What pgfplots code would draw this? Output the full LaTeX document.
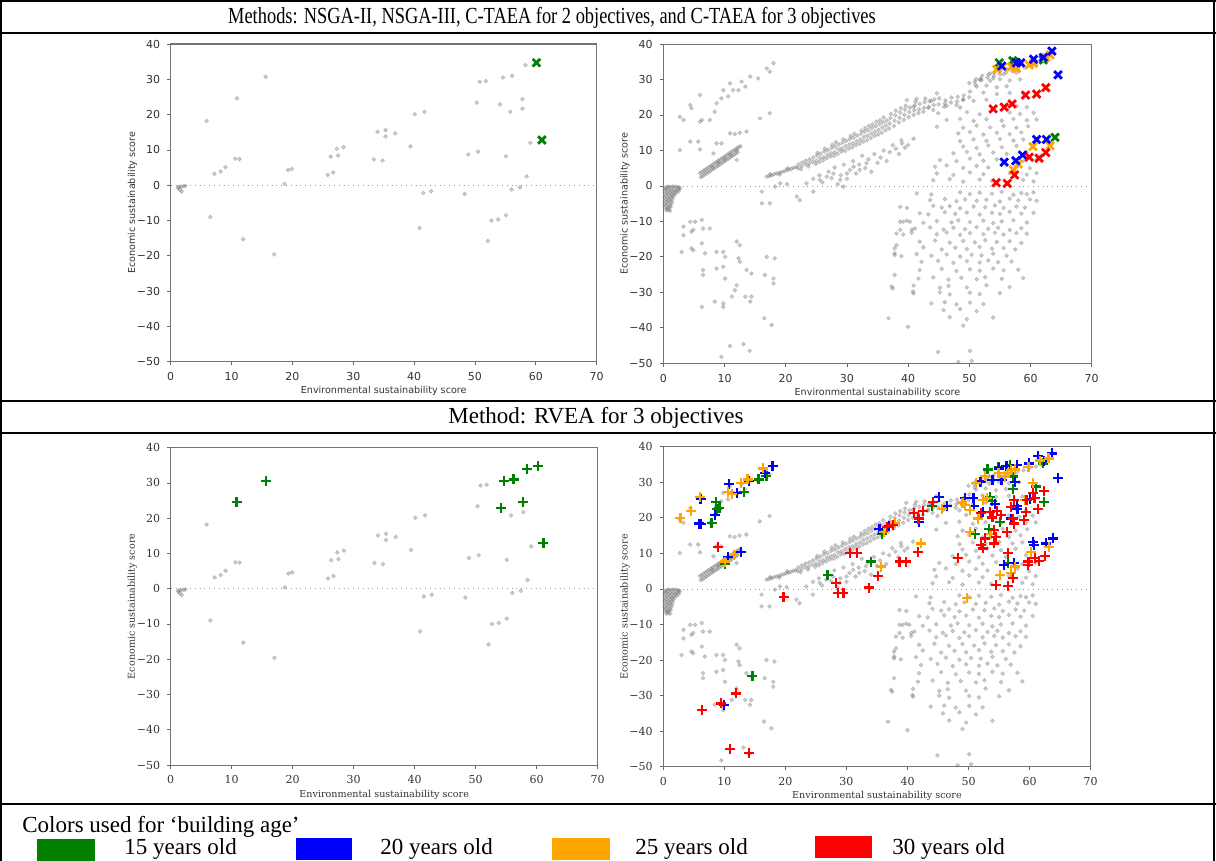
\documentclass[border=0pt]{standalone}
\usepackage{fontspec}
\setmainfont{Liberation Serif}
\newfontfamily\djsans{DejaVu Sans}
\newfontfamily\djserif{DejaVu Serif}
\usepackage{pgfplots}
\usepackage{pgfplotstable}
\pgfplotsset{compat=1.18}
\definecolor{mgreen}{RGB}{0,128,0}
\definecolor{mblue}{RGB}{0,0,255}
\definecolor{morange}{RGB}{255,165,0}
\definecolor{mred}{RGB}{255,0,0}

\pgfplotstableread[row sep=\\]{
x y\\
1.2 -0.8\\ 1.5 -1.3\\ 1.8 -1.8\\ 2.1 -0.3\\ 2.4 -0.2\\ 1.3 -0.5\\ 1.7 -0.4\\
5.9 18.2\\ 6.5 -9.0\\ 7.2 3.2\\ 8.2 3.9\\ 9.0 5.1\\ 10.6 7.5\\ 11.3 7.4\\ 10.9 24.6\\ 11.9 -15.3\\
15.6 30.7\\ 17.0 -19.6\\ 18.7 0.4\\ 19.3 4.3\\ 19.9 4.6\\ 25.8 2.9\\ 26.3 8.1\\ 26.7 3.6\\ 27.3 10.3\\
27.5 8.4\\ 28.4 10.8\\ 33.4 7.3\\ 34.0 15.1\\ 34.8 7.0\\ 35.3 15.6\\ 35.3 13.8\\ 36.9 14.7\\ 39.4 11.0\\
40.1 20.1\\ 40.9 -12.1\\ 41.5 -2.2\\ 41.7 20.8\\ 42.8 -1.7\\ 48.3 -2.5\\ 48.9 8.7\\ 50.3 23.4\\ 50.5 9.5\\
50.8 29.3\\ 51.8 29.5\\ 52.1 -15.8\\ 52.7 -10.0\\ 53.8 -9.7\\ 54.1 22.9\\ 54.6 30.5\\ 55.1 -8.5\\ 55.1 8.2\\
55.8 20.8\\ 56.0 -1.2\\ 56.1 31.0\\ 57.4 -0.6\\ 57.8 24.4\\ 57.8 21.7\\ 58.3 34.0\\ 58.5 2.5\\ 59.1 12.0\\
}\grayL

\pgfplotstableread[row sep=\\]{
x y\\
0.3 -0.5\\ 0.6 -0.3\\ 0.9 -0.2\\ 1.2 -0.4\\ 1.5 -0.2\\ 1.8 -0.3\\ 2.1 -0.2\\ 2.4 -0.5\\
0.2 -1.2\\ 0.5 -1.0\\ 0.8 -1.4\\ 1.1 -1.1\\ 1.4 -1.5\\ 1.7 -1.2\\ 2.0 -1.4\\ 2.3 -1.1\\
0.3 -2.2\\ 0.6 -2.0\\ 0.9 -2.4\\ 1.2 -2.1\\ 1.5 -2.5\\ 1.8 -2.2\\ 2.1 -2.0\\
0.2 -3.2\\ 0.5 -3.0\\ 0.8 -3.4\\ 1.1 -3.1\\ 1.4 -3.3\\ 1.7 -2.9\\
0.3 -4.1\\ 0.6 -4.3\\ 0.9 -4.0\\ 1.2 -4.4\\ 1.5 -3.9\\
0.2 -5.1\\ 0.5 -5.3\\ 0.8 -5.0\\ 1.1 -5.5\\ 1.4 -4.8\\
0.3 -6.0\\ 0.6 -6.3\\ 0.9 -6.1\\ 1.2 -5.9\\ 0.5 -6.9\\ 0.8 -6.7\\ 1.1 -7.0\\
2.5 -1.5\\ 2.6 -0.4\\ 2.7 -0.8\\
6.0 3.6\\ 6.15 2.5\\ 6.3 3.9\\ 6.45 2.8\\ 6.6 4.3\\ 6.75 3.2\\ 6.9 4.6\\ 7.05 3.5\\ 7.2 5.0\\ 7.35 3.9\\
7.5 5.3\\ 7.65 4.2\\ 7.8 5.7\\ 7.95 4.6\\ 8.1 6.0\\ 8.25 4.9\\ 8.4 6.4\\ 8.55 5.3\\ 8.7 6.7\\ 8.85 5.6\\
9.0 7.1\\ 9.15 6.0\\ 9.3 7.4\\ 9.45 6.3\\ 9.6 7.8\\ 9.75 6.7\\ 9.9 8.1\\ 10.05 7.0\\ 10.2 8.5\\ 10.35 7.4\\
10.5 8.8\\ 10.65 7.7\\ 10.8 9.2\\ 10.95 8.1\\ 11.1 9.5\\ 11.25 8.4\\ 11.4 9.9\\ 11.55 8.8\\ 11.7 10.2\\ 11.85 9.1\\
12.0 10.6\\ 12.15 9.5\\ 12.3 10.9\\ 12.6 11.2\\ 8.0 5.3\\ 9.0 6.5\\ 10.0 7.6\\ 11.0 8.8\\ 12.0 10.0\\
16.9 2.6\\ 17.3 2.8\\ 17.7 3.0\\ 18.1 3.3\\ 18.5 3.5\\ 18.9 3.7\\ 19.3 3.9\\ 19.7 4.1\\ 20.1 4.4\\ 20.5 4.6\\
20.9 4.8\\ 21.3 5.1\\ 21.7 5.3\\ 17.5 3.3\\ 19.0 3.2\\ 20.3 5.0\\
22.0 5.0\\ 22.1 6.1\\ 22.6 5.5\\ 22.7 6.6\\ 22.5 4.7\\ 23.2 6.1\\ 23.3 7.1\\ 23.8 6.3\\ 23.9 7.5\\ 23.7 5.5\\
24.4 6.8\\ 24.5 8.0\\ 25.0 7.1\\ 25.1 8.6\\ 24.9 6.2\\ 25.2 9.3\\ 25.6 7.8\\ 25.7 9.1\\ 25.5 6.7\\
26.2 8.1\\ 26.3 9.7\\ 26.1 7.2\\ 26.4 10.5\\ 26.8 8.8\\ 26.9 10.1\\ 26.7 7.8\\
27.4 9.2\\ 27.5 10.7\\ 27.3 8.3\\ 27.6 11.6\\ 28.0 9.5\\ 28.1 11.1\\ 27.9 8.5\\ 28.2 12.3\\
28.6 10.3\\ 28.7 11.7\\ 28.5 9.0\\ 29.2 10.6\\ 29.3 12.2\\ 29.1 9.7\\ 29.4 13.1\\ 29.8 11.2\\ 29.9 12.7\\ 29.7 9.9\\
30.4 11.7\\ 30.5 13.2\\ 30.3 10.5\\ 30.6 14.1\\ 31.0 12.0\\ 31.1 13.6\\ 30.9 10.9\\ 31.2 14.7\\
31.6 12.6\\ 31.7 14.2\\ 31.5 11.5\\ 32.2 13.1\\ 32.3 14.7\\ 32.1 11.9\\ 32.4 15.6\\
32.8 13.8\\ 32.9 15.3\\ 32.7 12.5\\ 33.0 16.3\\ 33.4 14.2\\ 33.5 15.7\\ 33.3 12.9\\ 33.6 16.9\\
34.0 14.8\\ 34.1 16.3\\ 33.9 13.5\\ 34.2 17.4\\ 34.6 15.3\\ 34.7 16.8\\ 34.5 14.1\\ 34.8 18.1\\
35.2 15.8\\ 35.3 17.4\\ 35.1 14.5\\ 35.4 18.5\\ 35.8 16.5\\ 35.9 17.9\\ 35.7 15.0\\ 36.0 19.3\\
36.4 17.0\\ 36.5 18.4\\ 36.3 15.7\\ 37.0 17.6\\ 37.1 19.1\\ 36.9 16.2\\ 37.2 20.3\\
37.8 18.4\\ 37.9 19.9\\ 37.7 16.9\\ 38.0 21.2\\ 38.6 19.2\\ 38.7 20.7\\ 38.5 17.9\\ 38.8 21.9\\
39.4 20.0\\ 39.5 21.5\\ 39.3 18.6\\ 39.6 22.6\\ 40.2 20.8\\ 40.3 22.1\\ 40.1 19.4\\
41.0 21.3\\ 41.1 22.7\\ 40.9 20.0\\ 41.2 23.7\\ 41.8 21.6\\ 41.9 23.1\\ 41.7 20.5\\
42.6 22.0\\ 42.7 23.6\\ 42.5 20.9\\ 42.8 24.6\\ 43.4 22.3\\ 43.5 23.9\\ 44.2 22.8\\ 44.3 24.4\\ 44.1 21.4\\
45.0 23.0\\ 45.1 24.7\\ 46.0 23.2\\ 46.1 24.1\\ 45.9 22.3\\ 47.0 23.5\\ 47.1 24.9\\ 48.0 23.8\\ 48.1 25.1\\ 47.9 22.8\\
49.0 24.2\\ 49.1 25.5\\ 50.0 25.0\\ 50.1 26.6\\ 50.0 29.0\\ 51.0 28.5\\ 51.1 30.1\\ 50.9 29.4\\
52.0 29.8\\ 52.1 31.1\\ 51.9 30.3\\ 53.0 30.5\\ 53.1 31.4\\ 54.0 31.0\\ 54.1 31.9\\ 53.9 30.3\\
55.0 31.5\\ 55.1 32.4\\ 56.0 32.0\\ 56.1 32.9\\ 57.0 32.4\\ 57.1 33.3\\ 58.0 33.0\\ 59.0 33.4\\
60.0 34.0\\ 61.0 34.4\\ 62.0 35.0\\
16.1 -1.6\\ 17.4 -4.9\\ 16.1 -4.9\\ 18.3 -0.2\\ 19.1 0.7\\ 20.2 0.5\\ 21.8 -3.0\\ 22.3 -4.0\\ 23.4 0.7\\
24.5 -1.6\\ 25.6 1.7\\ 26.7 2.6\\ 27.8 3.5\\ 28.9 1.7\\ 29.4 -0.2\\ 30.0 3.5\\ 31.1 5.4\\ 32.1 4.5\\ 33.2 6.4\\
24.5 2.0\\ 25.5 3.0\\ 26.0 1.0\\ 27.0 4.0\\ 27.5 2.2\\ 28.0 5.2\\ 28.5 0.5\\ 29.0 3.0\\ 29.5 6.0\\ 30.0 2.0\\
30.5 4.5\\ 31.0 7.0\\ 31.5 3.5\\ 32.0 6.0\\ 32.5 8.5\\ 33.0 5.0\\ 33.5 7.5\\ 34.0 4.0\\ 34.5 9.0\\ 35.0 6.5\\
35.5 8.0\\ 36.0 10.0\\ 36.5 7.0\\ 37.0 9.5\\ 37.5 11.5\\ 38.0 10.5\\ 38.5 9.0\\ 39.0 12.0\\ 39.5 10.8\\ 40.0 11.5\\
2.7 19.5\\ 3.3 18.6\\ 4.4 22.8\\ 4.6 21.9\\ 6.0 25.6\\ 6.3 18.6\\ 6.0 18.1\\ 7.6 18.6\\ 8.4 20.9\\ 8.7 23.3\\
9.5 24.7\\ 9.8 27.0\\ 10.6 25.2\\ 10.9 28.9\\ 11.4 27.0\\ 12.3 27.0\\ 12.8 29.4\\ 13.4 28.0\\ 14.2 30.8\\
15.5 30.3\\ 15.8 19.0\\ 17.4 20.5\\ 16.9 33.1\\ 18.0 34.6\\ 17.4 32.2\\
2.7 10.1\\ 4.4 12.5\\ 5.7 12.5\\ 6.0 10.3\\ 8.2 9.2\\ 8.7 12.0\\ 9.5 12.0\\ 10.9 14.8\\ 11.7 14.6\\
12.5 15.0\\ 13.6 15.3\\ 12.0 7.3\\
3.3 -11.5\\ 3.3 -13.9\\ 4.4 -10.1\\ 4.6 -12.9\\ 5.2 -10.1\\ 4.9 -12.4\\ 6.3 -9.6\\ 6.5 -12.0\\ 7.6 -12.0\\
3.0 -18.6\\ 4.6 -17.6\\ 4.9 -18.1\\ 6.3 -16.2\\ 6.8 -19.0\\ 6.5 -23.7\\ 6.5 -25.1\\ 6.3 -34.1\\ 8.7 -18.6\\
9.8 -18.6\\ 10.1 -20.0\\ 8.7 -23.3\\ 9.8 -22.8\\ 10.1 -26.1\\ 8.4 -32.6\\ 9.8 -33.1\\ 9.8 -34.1\\ 11.2 -31.2\\
11.7 -29.4\\ 12.0 -28.0\\ 12.0 -15.7\\ 12.5 -16.7\\ 12.3 -20.4\\ 12.5 -21.4\\ 13.6 -23.7\\ 14.4 -24.7\\
13.4 -31.2\\ 14.4 -31.2\\ 14.2 -32.6\\ 16.9 -20.0\\ 18.2 -20.4\\ 16.6 -25.1\\ 18.0 -26.1\\ 18.0 -27.5\\
16.5 -37.3\\ 17.7 -39.2\\ 9.5 -48.2\\ 10.9 -45.1\\ 13.1 -44.6\\ 14.1 -46.5\\
44.1 1.6\\ 46.8 1.9\\ 49.0 1.2\\ 51.7 1.8\\ 53.7 1.4\\ 58.8 1.7\\ 60.5 1.3\\
44.7 3.5\\ 47.4 3.1\\ 50.1 3.8\\ 52.3 3.3\\ 56.6 3.7\\ 59.4 3.2\\ 61.0 3.6\\
44.4 5.4\\ 46.3 5.8\\ 49.0 5.1\\ 51.2 5.6\\ 53.1 5.2\\ 58.0 5.7\\ 59.9 5.0\\
45.2 7.3\\ 47.9 7.0\\ 50.1 7.7\\ 52.3 7.1\\ 54.5 7.5\\ 58.8 7.0\\ 61.0 7.4\\
47.4 9.2\\ 49.6 9.6\\ 51.7 8.9\\ 53.9 9.4\\ 56.1 9.0\\ 59.4 9.5\\
49.0 11.1\\ 51.2 10.7\\ 53.1 11.4\\ 55.3 10.9\\ 57.7 11.3\\
38.9 12.9\\ 40.9 13.3\\ 48.5 12.6\\ 50.7 13.1\\ 52.8 12.7\\ 55.0 13.2\\ 57.2 12.8\\ 58.8 13.1\\
48.2 14.8\\ 50.1 15.2\\ 52.3 14.5\\ 54.5 15.0\\ 56.6 14.6\\ 58.5 15.1\\
44.7 16.7\\ 49.0 16.4\\ 51.2 17.0\\ 53.4 16.5\\ 55.6 16.9\\ 57.7 16.4\\ 59.6 16.8\\
46.3 18.6\\ 48.5 18.9\\ 50.7 18.3\\ 52.8 18.8\\ 55.3 18.4\\ 57.2 18.9\\ 59.4 18.5\\ 61.0 18.7\\
44.9 20.5\\ 49.6 20.8\\ 51.7 20.2\\ 56.6 20.7\\ 58.3 20.3\\ 60.5 20.6\\
40.9 22.3\\ 43.3 22.0\\ 46.3 22.6\\ 48.5 22.1\\ 57.7 22.5\\ 59.4 22.2\\
39.8 24.2\\ 41.4 24.5\\ 43.8 24.0\\ 49.0 24.4\\ 50.7 24.0\\ 52.8 24.3\\
44.7 26.1\\ 52.3 26.3\\ 54.5 25.9\\ 56.6 26.2\\ 58.8 26.0\\
51.2 28.0\\ 52.8 28.3\\ 54.5 27.8\\ 56.1 28.1\\
51.7 29.9\\ 53.4 29.6\\ 55.0 30.1\\ 56.6 29.7\\ 58.3 30.0\\
53.4 31.7\\ 55.6 31.5\\ 57.7 31.9\\
41.4 -2.1\\ 43.8 -2.4\\ 48.5 -1.8\\ 50.1 -2.3\\ 51.7 -1.9\\ 53.7 -2.2\\ 55.3 -1.7\\ 57.2 -2.5\\ 58.5 -2.0\\ 59.4 -2.3\\ 60.5 -1.8\\
43.6 -4.0\\ 46.0 -3.7\\ 47.9 -4.3\\ 49.3 -3.8\\ 51.2 -4.2\\ 52.8 -3.9\\ 55.0 -4.4\\ 56.6 -3.6\\ 58.0 -4.1\\ 59.9 -3.8\\ 61.0 -4.2\\
38.7 -5.9\\ 39.8 -6.2\\ 44.1 -5.6\\ 45.5 -6.1\\ 46.8 -5.7\\ 48.5 -6.3\\ 50.7 -5.8\\ 52.6 -6.0\\ 54.2 -5.5\\ 55.6 -6.2\\ 57.7 -5.8\\ 59.1 -6.1\\
41.9 -7.7\\ 43.3 -8.0\\ 46.0 -7.4\\ 47.7 -7.9\\ 49.6 -7.5\\ 51.7 -8.1\\ 53.7 -7.6\\ 55.0 -7.9\\ 56.6 -7.3\\ 58.5 -7.8\\ 60.5 -7.6\\
38.7 -10.1\\ 39.8 -9.8\\ 42.5 -10.4\\ 44.7 -9.9\\ 47.1 -10.3\\ 48.2 -9.7\\ 50.1 -10.2\\ 52.3 -9.8\\ 53.9 -10.5\\ 55.3 -10.0\\ 57.2 -9.7\\ 59.4 -10.3\\
41.1 -12.0\\ 43.6 -11.7\\ 45.8 -12.3\\ 47.4 -11.8\\ 49.3 -12.2\\ 51.2 -11.6\\ 53.1 -12.1\\ 54.7 -11.8\\ 56.6 -12.4\\ 58.5 -11.9\\
38.1 -13.4\\ 39.2 -13.7\\ 40.6 -13.2\\ 44.7 -13.6\\ 46.3 -13.1\\ 48.5 -13.8\\ 50.1 -13.3\\ 52.3 -13.6\\ 54.2 -13.2\\ 55.6 -13.7\\ 57.7 -13.3\\ 59.4 -13.5\\
41.9 -15.7\\ 44.4 -15.4\\ 46.8 -16.0\\ 49.0 -15.5\\ 50.9 -15.9\\ 52.6 -15.3\\ 54.5 -15.8\\ 56.6 -15.6\\ 58.5 -16.1\\
37.8 -17.6\\ 42.5 -17.3\\ 45.5 -17.9\\ 47.7 -17.4\\ 49.6 -17.8\\ 51.7 -17.2\\ 53.7 -17.7\\ 55.6 -17.5\\ 57.5 -17.9\\
37.8 -19.5\\ 38.9 -19.8\\ 41.4 -19.2\\ 43.8 -19.7\\ 46.3 -19.3\\ 48.5 -19.9\\ 50.4 -19.4\\ 52.0 -19.6\\ 53.9 -19.1\\ 56.1 -19.7\\
42.2 -21.4\\ 44.9 -21.1\\ 47.4 -21.7\\ 49.6 -21.2\\ 51.7 -21.6\\ 53.1 -21.0\\ 54.7 -21.5\\ 56.9 -21.3\\
41.9 -23.7\\ 45.5 -23.4\\ 47.9 -24.0\\ 50.1 -23.5\\ 51.7 -23.9\\ 53.9 -23.3\\ 55.6 -23.8\\ 58.0 -23.6\\
41.7 -26.1\\ 44.1 -25.8\\ 46.6 -26.4\\ 48.7 -25.9\\ 51.2 -26.3\\ 52.6 -25.7\\ 55.3 -26.2\\ 58.8 -26.0\\
37.3 -28.4\\ 40.9 -28.1\\ 45.2 -28.7\\ 46.6 -28.2\\ 49.6 -28.6\\ 52.8 -28.0\\ 56.6 -28.5\\
40.9 -30.3\\ 45.2 -30.0\\ 46.8 -30.6\\ 50.1 -30.1\\ 51.7 -30.5\\ 55.0 -30.2\\
43.8 -33.1\\ 46.0 -32.8\\ 47.9 -33.4\\ 50.1 -32.9\\ 52.3 -33.3\\
45.8 -35.0\\ 48.5 -34.7\\ 51.2 -35.3\\
36.8 -37.3\\ 46.8 -37.0\\ 49.6 -37.6\\ 53.9 -37.1\\
40.0 -39.7\\ 49.0 -39.4\\ 44.9 -46.8\\ 50.1 -46.5\\ 48.2 -49.6\\ 50.4 -49.3\\
38.1 -16.7\\ 37.8 -19.0\\ 38.7 -12.4\\ 39.2 -10.1\\ 40.3 -10.1\\ 40.6 -12.4\\ 37.8 -25.1\\ 37.5 -28.9\\ 40.8 -29.8\\
}\grayR

\pgfplotsset{
  sc/.style={
    scale only axis, xmin=0, xmax=70, ymin=-50, ymax=40,
    xtick={0,10,...,70}, ytick={-50,-40,...,40},
    yticklabels={−50,−40,−30,−20,−10,0,10,20,30,40},
    axis line style={black!55, line width=0.5pt},
    tick style={black!60, line width=0.4pt},
    tick align=outside, tick pos=left, major tick length=1.8pt,
    /pgf/number format/assume math mode=true,
    xlabel={Environmental sustainability score},
    ylabel={Economic sustainability score},
    xlabel style={yshift=4pt},
    ylabel style={yshift=-7pt},
  },
  sansfont/.style={
    tick label style={font=\djsans\fontsize{5.5}{6}\selectfont, text=black!80},
    label style={font=\djsans\fontsize{4.8}{6}\selectfont, text=black!80},
  },
  seriffont/.style={
    tick label style={font=\djserif\fontsize{5.5}{6}\selectfont, text=black!80},
    label style={font=\djserif\fontsize{4.8}{6}\selectfont, text=black!80},
  },
  zeroline/.style={black!40, dotted, line width=0.4pt},
  grayd/.style={only marks, mark=*, mark size=0.95pt, color=black!55, opacity=0.33},
  xm/.style={only marks, mark=x, mark size=2.7pt, color=#1, line width=1.4pt},
  pm/.style={only marks, mark=+, mark size=2.5pt, color=#1, line width=1.1pt},
}

\begin{document}
\begin{tikzpicture}
\useasboundingbox (0,0) rectangle (608pt,-430.5pt);

% top-left
\begin{axis}[sc, sansfont, at={(85.35pt,-180.85pt)}, anchor=south west, width=213pt, height=158.85pt]
\addplot[zeroline] coordinates {(0,0) (70,0)};
\addplot[grayd] table[x=x,y=y] {\grayL};
\addplot[xm=mgreen] coordinates {(60.1,34.7) (61.0,12.8)};
\end{axis}

% top-right
\begin{axis}[sc, sansfont, at={(331.65pt,-181.65pt)}, anchor=south west, width=214.2pt, height=159.65pt]
\addplot[zeroline] coordinates {(0,0) (70,0)};
\addplot[grayd] table[x=x,y=y] {\grayR};
\addplot[xm=mgreen] coordinates {(54.9,34.7) (57.1,35.3) (62.1,35.5) (64.0,13.7) (57.5,34.9)};
\addplot[xm=morange] coordinates {(54.5,32.9) (56.9,33.6) (57.7,33.1) (59.8,34.1) (63.2,36.9) (60.5,34.5) (63.2,11.3) (60.4,11.1) (58.0,6.2) (57.2,4.5) (55.4,33.5) (62.5,36.2)};
\addplot[xm=mblue] coordinates {(55.3,33.8) (57.7,34.7) (58.4,34.7) (60.5,35.7) (62.1,36.2) (63.5,38.0) (64.5,31.3) (61.0,13.1) (62.6,13.1) (58.7,8.7) (57.6,7.1) (55.7,6.7)};
\addplot[xm=mred] coordinates {(53.9,21.7) (55.7,22.2) (57.0,23.1) (59.2,25.6) (61.0,25.9) (62.5,27.7) (62.5,9.4) (61.4,7.8) (59.8,8.1) (57.4,3.1) (54.4,0.9) (56.2,0.7)};
\end{axis}

% bottom-left
\begin{axis}[sc, seriffont, at={(85.35pt,-382.5pt)}, anchor=south west, width=213.5pt, height=158.65pt]
\addplot[zeroline] coordinates {(0,0) (70,0)};
\addplot[grayd] table[x=x,y=y] {\grayL};
\addplot[pm=mgreen] coordinates {(10.8,24.7) (15.6,30.6) (54.1,23.0) (54.6,30.6) (56.2,31.0) (57.8,24.5) (58.4,34.0) (60.2,34.8) (61.1,12.9)};
\end{axis}

% bottom-right
\begin{axis}[sc, seriffont, at={(331.65pt,-383.35pt)}, anchor=south west, width=213.7pt, height=160pt]
\addplot[zeroline] coordinates {(0,0) (70,0)};
\addplot[grayd] table[x=x,y=y] {\grayR};
\addplot[pm=mgreen] coordinates {(7.9,18.6) (8.6,24.5) (8.8,22.4) (9.2,22.8) (13.2,27.3) (15.6,30.8) (16.9,31.8) (10.1,7.0) (14.6,-24.5) (26.9,3.9) (34.0,7.7) (35.8,15.4) (44.0,23.3) (51.1,15.4) (53.5,25.9) (53.3,16.8) (53.1,33.6) (53.8,24.8) (55.2,18.9) (54.9,34.4) (56.8,34.8) (57.3,31.6) (57.3,28.0) (56.4,7.2) (61.1,28.8) (62.3,24.5) (62.2,35.3) (52.0,30.2)};
\addplot[pm=mblue] coordinates {(6.1,25.2) (5.9,18.4) (6.1,18.2) (8.5,20.8) (10.8,29.5) (12.1,26.9) (14.1,30.4) (16.7,32.7) (17.9,34.6) (10.6,8.9) (12.7,10.5) (9.9,-32.7) (35.4,16.8) (37.0,17.7) (41.9,18.9) (45.1,25.9) (46.4,23.4) (49.4,25.5) (50.8,25.5) (50.9,23.3) (51.9,30.2) (52.3,21.7) (53.9,30.6) (54.3,23.9) (55.0,33.9) (55.4,30.6) (56.2,34.6) (57.6,30.0) (57.9,34.8) (57.0,19.8) (57.9,23.3) (58.0,22.4) (55.8,6.7) (57.5,7.2) (60.6,13.3) (60.7,12.4) (60.0,25.2) (59.9,35.3) (61.4,37.4) (62.3,36.1) (63.6,38.1) (64.7,31.1) (62.7,12.8) (63.8,14.2)};
\addplot[pm=morange] coordinates {(2.8,19.9) (4.6,22.0) (6.0,25.9) (10.6,27.3) (11.2,26.7) (12.7,29.9) (13.8,30.8) (16.3,33.9) (10.1,7.7) (11.6,9.5) (35.6,6.3) (36.2,16.1) (38.0,18.6) (42.2,12.8) (45.7,22.4) (49.8,-2.6) (49.0,24.3) (49.4,23.6) (50.2,22.2) (50.2,16.1) (51.2,29.9) (51.6,19.8) (52.3,25.0) (53.0,25.5) (53.6,15.4) (52.7,31.8) (55.1,3.9) (54.9,32.7) (56.0,31.6) (56.5,32.5) (57.0,33.4) (57.6,33.6) (57.0,4.4) (57.6,6.3) (59.8,34.2) (59.3,25.0) (60.2,10.5) (60.6,29.7) (61.7,36.1) (63.1,36.7) (63.2,11.7)};
\addplot[pm=mred] coordinates {(9.0,11.9) (6.3,-34.0) (9.4,-32.2) (11.9,-29.4) (10.9,-45.1) (14.1,-46.2) (19.7,-2.2) (28.3,1.6) (28.6,-1.2) (29.5,-1.2) (30.6,10.0) (31.7,10.2) (33.7,0.4) (35.1,3.7) (36.6,17.5) (37.6,18.0) (38.7,7.7) (39.8,7.7) (41.1,21.4) (41.8,19.8) (42.5,22.0) (41.7,10.5) (44.2,24.5) (48.3,8.8) (52.0,21.3) (52.0,12.4) (52.3,11.4) (52.7,14.2) (53.5,21.7) (53.9,20.1) (54.2,16.6) (54.1,12.8) (54.5,14.7) (54.6,21.9) (55.3,20.8) (54.5,1.1) (56.4,0.8) (56.3,16.1) (56.5,10.0) (57.0,23.1) (57.3,19.8) (57.5,18.4) (57.4,25.0) (57.3,3.0) (59.5,25.0) (59.4,21.7) (59.1,19.4) (59.8,7.7) (59.7,6.7) (60.9,8.6) (61.5,7.9) (60.5,26.9) (60.8,25.5) (61.4,22.5) (62.4,27.6) (62.5,9.3)};
\end{axis}

% table frame
\draw[line width=1pt] (0,-0.5pt) -- (608pt,-0.5pt);
\draw[line width=1pt] (0.5pt,0) -- (0.5pt,-430.5pt);
\draw[line width=1pt] (607pt,0) -- (607pt,-430.5pt);
\draw[line width=1pt] (0,-16.5pt) -- (608pt,-16.5pt);
\draw[line width=1pt] (0,-200.5pt) -- (608pt,-200.5pt);
\draw[line width=1pt] (0,-216.5pt) -- (608pt,-216.5pt);
\draw[line width=1pt] (0,-402pt) -- (608pt,-402pt);

% headers
\node[inner sep=0pt, xscale=0.80] at (276pt,-8.7pt) {\fontsize{11.5}{13}\selectfont Methods: NSGA-II, NSGA-III, C-TAEA for 2 objectives, and C-TAEA for 3 objectives};
\node[inner sep=0pt] at (298pt,-208.7pt) {\fontsize{11.5}{13}\selectfont Method: RVEA for 3 objectives};

% legend row
\node[inner sep=0pt, anchor=west] at (11pt,-413.5pt) {\fontsize{11.5}{13}\selectfont Colors used for ‘building age’};
\fill[mgreen] (18.5pt,-419.5pt) rectangle (47.5pt,-430.5pt);
\fill[mblue] (148pt,-419pt) rectangle (176pt,-430pt);
\fill[morange] (276pt,-419pt) rectangle (305pt,-430pt);
\fill[mred] (407.5pt,-418pt) rectangle (436pt,-429pt);
\node[inner sep=0pt, anchor=west] at (62pt,-424.5pt) {\fontsize{11.5}{13}\selectfont 15 years old};
\node[inner sep=0pt, anchor=west] at (190pt,-424.5pt) {\fontsize{11.5}{13}\selectfont 20 years old};
\node[inner sep=0pt, anchor=west] at (317.5pt,-424.5pt) {\fontsize{11.5}{13}\selectfont 25 years old};
\node[inner sep=0pt, anchor=west] at (446pt,-424.5pt) {\fontsize{11.5}{13}\selectfont 30 years old};
\end{tikzpicture}
\end{document}
